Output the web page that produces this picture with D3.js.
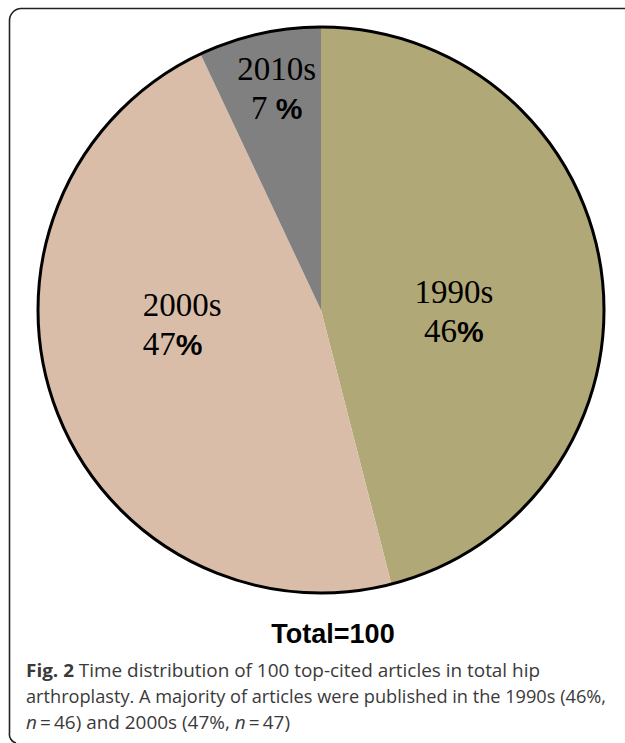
<!DOCTYPE html>
<html>
<head>
<meta charset="utf-8">
<script src="https://cdn.jsdelivr.net/npm/d3@7"></script>
<style>
  html, body { margin: 0; padding: 0; background: #fff; }
  svg { display: block; }
</style>
</head>
<body>
<script>
// Decades and their share of the 100 top-cited articles
const decades = ["1990s", "2000s", "2010s"];
const shares = [46, 47, 7];
const sliceColors = ["#b1a877", "#d9bda9", "#808080"];
const totalLabel = "Total=100";

const W = 625, H = 743;
const cx = 321, cy = 310, R = 283;

const svg = d3.select("body").append("svg")
  .attr("width", W).attr("height", H);

// figure frame: open on the right and bottom edges
svg.append("path")
  .attr("d", "M 626 8.5 H 21 A 12 12 0 0 0 9.5 20.5 V 733 A 9 9 0 0 0 16 743")
  .attr("fill", "none")
  .attr("stroke", "#222")
  .attr("stroke-width", 1.6);

const pie = d3.pie().sort(null).value(d => d.value).startAngle(0).endAngle(2 * Math.PI);
const arcs = pie(decades.map((name, i) => ({ name, value: shares[i], color: sliceColors[i] })));

const arc = d3.arc().innerRadius(0).outerRadius(R);
const g = svg.append("g").attr("transform", `translate(${cx},${cy})`);

g.selectAll("path.slice")
  .data(arcs)
  .join("path")
  .attr("class", "slice")
  .attr("d", arc)
  .attr("fill", d => d.data.color);

// outer rim
g.append("circle")
  .attr("r", R)
  .attr("fill", "none")
  .attr("stroke", "#000")
  .attr("stroke-width", 3);

// label placement: distance along the slice bisector plus a small nudge
const labelLayout = [
  { r: 134, dx: 0, dy: 10, anchor: "middle" },
  { r: 148, dx: -39, dy: -44, anchor: "start" },
  { r: 226, dx: 5, dy: -9, anchor: "middle" }
];

const serif = "'Liberation Serif', 'Times New Roman', serif";
const sans = "'Liberation Sans', Arial, sans-serif";

arcs.forEach((a, i) => {
  const lay = labelLayout[i];
  const mid = (a.startAngle + a.endAngle) / 2;
  const x = cx + lay.r * Math.sin(mid) + lay.dx;
  const y = cy - lay.r * Math.cos(mid) + lay.dy;
  const t = svg.append("text")
    .attr("text-anchor", lay.anchor)
    .attr("font-family", serif)
    .attr("font-size", 33)
    .attr("fill", "#000");
  t.append("tspan").attr("x", x).attr("y", y).text(a.data.name);
  const l2 = t.append("tspan").attr("x", x).attr("y", y + 39);
  l2.append("tspan").text(a.data.value + (i === 2 ? " " : ""));
  l2.append("tspan").attr("font-family", sans).attr("font-weight", "bold").attr("font-size", 30).text("%");
});

svg.append("text")
  .attr("x", 333).attr("y", 643)
  .attr("text-anchor", "middle")
  .attr("font-family", sans)
  .attr("font-weight", "bold")
  .attr("font-size", 27)
  .attr("fill", "#000")
  .text(totalLabel);

// caption
const capFont = "'Open Sans', 'Noto Sans', sans-serif";
const cap = svg.append("g")
  .attr("font-family", capFont)
  .attr("font-size", 18)
  .attr("fill", "#3a3a3a");

const l1 = cap.append("text").attr("x", 26).attr("y", 677)
  .attr("textLength", 514).attr("lengthAdjust", "spacingAndGlyphs");
l1.append("tspan").attr("font-weight", "bold").text("Fig. 2");
l1.append("tspan").text(" Time distribution of 100 top-cited articles in total hip");

cap.append("text").attr("x", 26).attr("y", 703)
  .attr("textLength", 580).attr("lengthAdjust", "spacingAndGlyphs")
  .text("arthroplasty. A majority of articles were published in the 1990s (46%,");

const l3 = cap.append("text").attr("x", 26).attr("y", 729)
  .attr("textLength", 264).attr("lengthAdjust", "spacingAndGlyphs");
l3.append("tspan").attr("font-style", "italic").text("n");
l3.append("tspan").text("\u2009=\u200946) and 2000s (47%, ");
l3.append("tspan").attr("font-style", "italic").text("n");
l3.append("tspan").text("\u2009=\u200947)");
</script>
</body>
</html>
